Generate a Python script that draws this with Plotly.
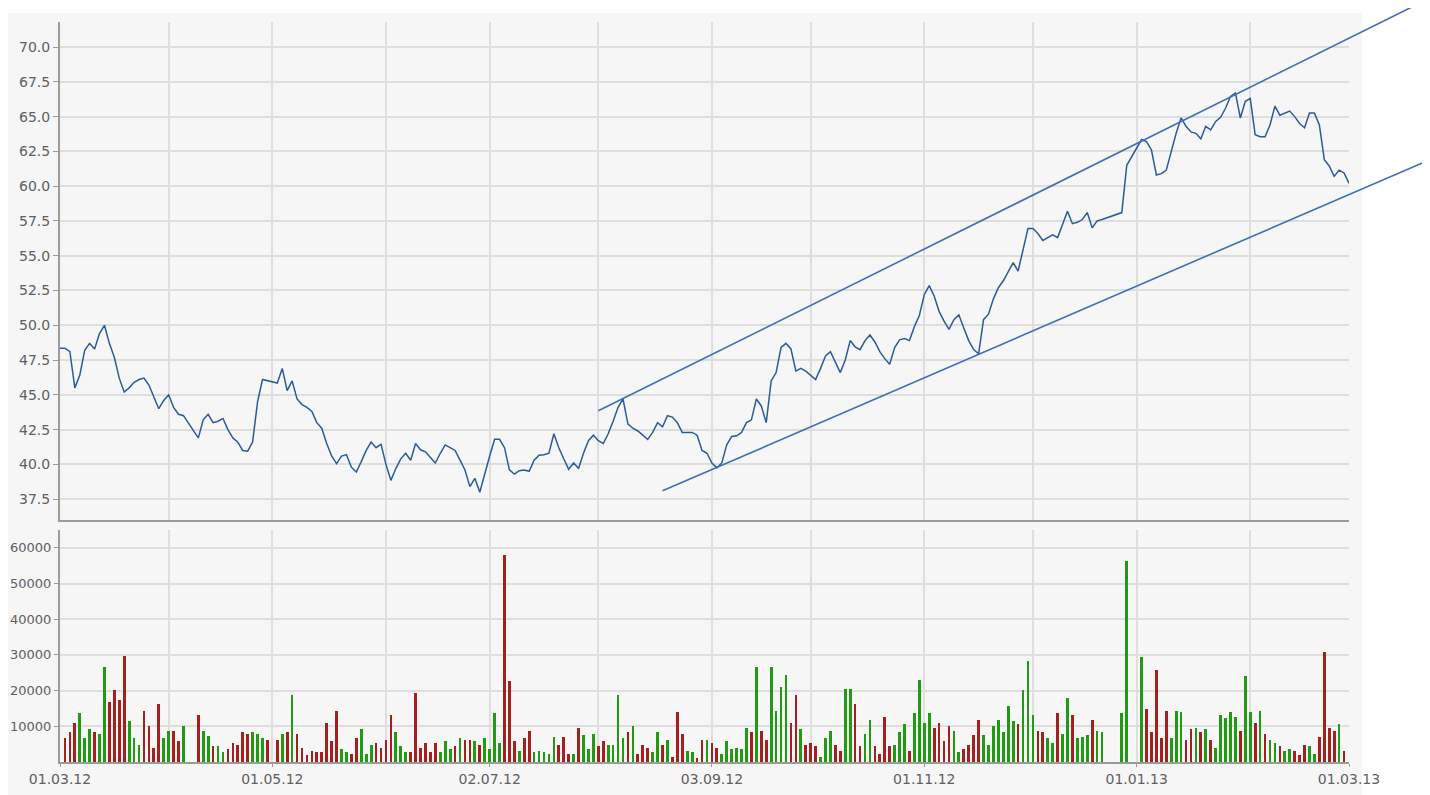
import numpy as np
import pandas as pd
import plotly.graph_objects as go

# ---------------- data ----------------
START = "2012-03-01"
END = "2013-03-01"
holidays = ["2012-04-06", "2012-04-09", "2012-05-01", "2012-12-24", "2012-12-25",
            "2012-12-26", "2012-12-31", "2013-01-01"]

# closing prices, one per trading day
price = [
    48.35, 48.35, 48.1, 45.5, 46.4, 48.2, 48.7, 48.3, 49.4, 50.0,
    48.7, 47.7, 46.2, 45.2, 45.5, 45.9, 46.1, 46.2, 45.7, 44.8,
    44.0, 44.6, 45.0, 44.1, 43.6, 43.5,
    41.9, 43.2, 43.6, 43.0, 43.1, 43.3, 42.5, 41.9, 41.6, 41.0,
    40.95, 41.6, 44.5, 46.1, 46.0,
    45.85, 46.9, 45.3, 46.0, 44.7, 44.3, 44.1, 43.8, 43.0, 42.6,
    41.5, 40.6, 40.05, 40.6, 40.7, 39.8, 39.45, 40.2, 41.0, 41.6,
    41.2, 41.45, 40.0, 38.85, 39.7, 40.4, 40.8, 40.3, 41.5, 41.05,
    40.9, 40.5, 40.1, 40.8, 41.4, 41.2, 41.0, 40.3, 39.6, 38.4,
    39.0, 38.0, 39.4, 40.6, 41.8, 41.8, 41.2, 39.6, 39.3, 39.55,
    39.6, 39.5, 40.3, 40.65, 40.7, 40.8, 42.2, 41.2, 40.4, 39.65,
    40.1, 39.7, 40.8, 41.7, 42.1, 41.7, 41.5, 42.2, 43.1, 44.1,
    44.7, 42.9, 42.6, 42.4, 42.1, 41.8, 42.3, 43.0, 42.7, 43.5,
    43.4, 43.0, 42.3, 42.3, 42.3, 42.1, 41.0, 40.8, 40.1, 39.75,
    40.1, 41.4, 42.0, 42.05, 42.3, 43.0, 43.2, 44.7, 44.2, 43.0,
    46.0, 46.6, 48.4, 48.7, 48.3, 46.7, 46.9, 46.7, 46.4, 46.1,
    46.9, 47.8, 48.1, 47.3, 46.6, 47.5, 48.9, 48.45, 48.25, 48.9,
    49.3, 48.8, 48.1, 47.6, 47.2, 48.4, 48.95, 49.05, 48.9, 49.9,
    50.7, 52.2, 52.85, 52.1, 51.0, 50.3, 49.7, 50.4, 50.75, 49.8,
    48.9, 48.25, 47.95, 50.4, 50.8, 51.9, 52.7, 53.2, 53.9, 54.5,
    53.9, 55.45, 56.95, 56.95, 56.6, 56.1, 56.3, 56.5, 56.3, 57.3,
    58.2, 57.3, 57.4, 57.6, 58.1, 57.0, 57.5, 57.6,
    58.1, 61.5,
    63.35, 63.2, 62.6, 60.8, 60.9, 61.15, 62.5, 63.8, 64.9, 64.3,
    63.9, 63.8, 63.4, 64.3, 64.05, 64.65, 64.95, 65.6, 66.45, 66.7,
    64.9, 66.1, 66.3, 63.7, 63.55, 63.55, 64.4, 65.75, 65.1, 65.25,
    65.4, 65.0, 64.5, 64.2, 65.25, 65.25, 64.4, 61.9, 61.45, 60.7,
    61.15, 60.95, 60.2,
]

# daily volume (None = no visible bar)
volume = [
    None, 6700, 8400, 11000, 13600, 6700, 9200, 8400, 7900, 26700,
    16700, 20100, 17500, 29700, 11500, 6700, 4900, 14400, 10000, 4000,
    16200, 6700, 8800, 8800, 5800, 10000,
    13100, 8800, 7400, 4400, 4400, 2800, 3600, 5400, 4900, 8400,
    7900, 8400, 7900, 6700, 6200,
    6200, 7900, 8400, 18900, 7900, 4000, 1900, 3200, 2800, 2800,
    11000, 5800, 14400, 3600, 2800, 2300, 6700, 9200, 2300, 4900,
    5400, 4000, 6200, 13100, 8400, 4400, 2800, 2800, 19300, 4000,
    5400, 2800, 5400, 2800, 5800, 3600, 4400, 6700, 6200, 6200,
    5800, 4900, 6700, 3600, 13600, 5400, 58000, 22700, 5800, 3200,
    6700, 8800, 2800, 3200, 2800, 2300, 7000, 4900, 7000, 2300,
    2300, 9600, 7500, 3600, 7900, 4400, 5800, 4900, 4900, 18800,
    6700, 8400, 10000, 2300, 4900, 4000, 2800, 8400, 4900, 6200,
    1400, 14000, 7900, 3200, 2800, 1000, 6200, 6200, 5400, 4000,
    2300, 5800, 3600, 4000, 3600, 9600, 8400, 26700, 8800, 6200,
    26700, 14400, 21000, 24400, 11000, 18800, 9300, 4900, 5400, 4400,
    1400, 6700, 8800, 4900, 3200, 20500, 20500, 16200, 4400, 7900,
    11900, 4400, 2300, 12700, 4400, 4900, 8400, 10600, 3200, 13600,
    23100, 11000, 13600, 9600, 11000, 5800, 10000, 8800, 2800, 3600,
    4900, 7500, 11900, 7500, 4900, 10000, 11900, 8400, 15700, 11500,
    10600, 20100, 28400, 13100, 8800, 8400, 6700, 5400, 13600, 7900,
    18000, 13100, 6700, 7000, 7500, 11900, 8800, 8400,
    13600, 56300,
    29400, 14900, 8400, 25800, 6700, 14400, 6700, 14400, 14000, 6200,
    9300, 9600, 8400, 9300, 6200, 4000, 13100, 12300, 14000, 12700,
    8800, 24000, 14000, 11000, 14400, 7900, 6200, 5400, 4400, 3200,
    3600, 3200, 1900, 4900, 4400, 2300, 7000, 30800, 9600, 8800,
    10600, 3200, None,
]

# bar direction per day: g = up (green), r = down (red)
vol_dir = "".join([
    "rrrrgggrgg", "rrrrgggrrr", "rggrrg",
    "rggrggrrrr", "rgggr",
    "rgrgrrrrrr", "rrrggrrggg", "rrrrgggrrr", "rrrgggrgrr",
    "grggggrrrg", "rrgggggrrr", "grgggrrggg", "grgrrrggrg",
    "rrrggrrgrr", "ggggggrgrr", "ggggrrgrrr", "gggrrggrrg",
    "grrrrgggrg", "gggrrrrggr", "rrrggggggg", "rgggrrggrg",
    "grgggrgg",
    "gg",
    "grrrrrgggr", "rgrgrggggg", "rggrgrggrg", "grrrggrrrr",
    "grr",
])

label_dates = ["2012-03-01", "2012-05-01", "2012-07-02", "2012-09-03",
               "2012-11-01", "2013-01-01", "2013-03-01"]
label_text = ["01.03.12", "01.05.12", "02.07.12", "03.09.12",
              "01.11.12", "01.01.13", "01.03.13"]
month_grid_dates = ["2012-04-02", "2012-05-01", "2012-06-01", "2012-07-02",
                    "2012-08-01", "2012-09-03", "2012-10-01", "2012-11-01",
                    "2012-12-03", "2013-01-01", "2013-02-01"]

price_ticks = [37.5, 40.0, 42.5, 45.0, 47.5, 50.0, 52.5, 55.0, 57.5, 60.0,
               62.5, 65.0, 67.5, 70.0]
volume_ticks = [10000, 20000, 30000, 40000, 50000, 60000]

# channel (trend) lines: (date, price) end points
trend_upper = [("2012-08-01", 43.85), ("2013-03-21", 73.1)]
trend_lower = [("2012-08-20", 38.1), ("2013-03-25", 61.85)]

# ---------------- build ----------------
trade_dates = pd.bdate_range(START, END)
trade_dates = trade_dates[~trade_dates.isin(pd.to_datetime(holidays))]


def wd(dates):
    d = pd.to_datetime(list(dates)).values.astype("datetime64[D]")
    return np.busday_count(np.datetime64(START), d)


x = wd(trade_dates)
x_end = int(wd([END])[0])

n = len(x)
price = price[:n]
volume = volume[:n]
vol_dir = vol_dir[:n].ljust(n, "r")

GREEN = "#1f9a12"
RED = "#a3201f"
bar_colors = [GREEN if c == "g" else RED for c in vol_dir]

P_MIN, P_MAX = 36.0, 71.8
V_MAX = 65000
PRICE_DOM = [0.327, 1.0]
VOL_DOM = [0.0, 0.3135]

GRID = "#dedede"
AXIS = "#9b9b9b"
FONT = dict(family="DejaVu Sans", size=14, color="#606060")
FONT_VOL = dict(family="DejaVu Sans", size=13, color="#606060")

fig = go.Figure()
fig.add_trace(go.Scatter(x=x, y=price, mode="lines",
                         line=dict(color="#2b5c97", width=1.5),
                         xaxis="x", yaxis="y", hoverinfo="skip"))
fig.add_trace(go.Bar(x=x, y=volume, width=0.55,
                     marker=dict(color=bar_colors, line=dict(width=0)),
                     xaxis="x2", yaxis="y2", hoverinfo="skip"))


def to_paper(d, p):
    xp = wd([d])[0] / x_end
    yp = PRICE_DOM[0] + (p - P_MIN) / (P_MAX - P_MIN) * (PRICE_DOM[1] - PRICE_DOM[0])
    return float(xp), float(yp)


shapes = [
    dict(type="rect", xref="paper", yref="paper",
         x0=-58 / 1289, x1=1302 / 1289, y0=-33 / 740, y1=749 / 740,
         fillcolor="#f6f6f6", line=dict(width=0), layer="below"),
]
for tl in (trend_upper, trend_lower):
    (d0, p0), (d1, p1) = tl
    x0, y0 = to_paper(d0, p0)
    x1, y1 = to_paper(d1, p1)
    shapes.append(dict(type="line", xref="paper", yref="paper",
                       x0=x0, y0=y0, x1=x1, y1=y1,
                       line=dict(color="#3f6fb5", width=1.6), layer="above"))

grid_vals = [int(v) for v in wd(month_grid_dates)]
label_vals = [int(v) for v in wd(label_dates)]

common_x = dict(range=[0, x_end], showgrid=False, zeroline=False,
                showline=True, linecolor=AXIS, linewidth=2,
                minor=dict(tickmode="array", tickvals=grid_vals, showgrid=True,
                           gridcolor=GRID, gridwidth=1.5, ticks=""),
                fixedrange=True)

fig.update_layout(
    width=1430, height=795,
    margin=dict(l=52, r=89, t=14, b=41, pad=0, autoexpand=False),
    paper_bgcolor="white",
    plot_bgcolor="rgba(0,0,0,0)",
    showlegend=False,
    hovermode=False,
    bargap=0,
    font=FONT,
    shapes=shapes,
    xaxis=dict(domain=[0, 1], anchor="y", showticklabels=False, ticks="",
               **common_x),
    xaxis2=dict(domain=[0, 1], anchor="y2", tickmode="array",
                tickvals=label_vals, ticktext=label_text,
                ticks="outside", ticklen=3, tickwidth=1, tickcolor=AXIS,
                tickfont=FONT, **common_x),
    yaxis=dict(domain=PRICE_DOM, anchor="x", range=[P_MIN, P_MAX],
               tickmode="array", tickvals=price_ticks, tickformat=".1f",
               ticks="outside", ticklen=5, tickcolor=AXIS,
               showgrid=True, gridcolor=GRID, gridwidth=1.5, zeroline=False,
               showline=True, linecolor=AXIS, linewidth=2,
               tickfont=FONT, fixedrange=True),
    yaxis2=dict(domain=VOL_DOM, anchor="x2", range=[0, V_MAX],
                tickmode="array", tickvals=volume_ticks, tickformat="d",
                ticks="outside", ticklen=4, tickcolor=AXIS,
                showgrid=True, gridcolor=GRID, gridwidth=1.5, zeroline=False,
                showline=True, linecolor=AXIS, linewidth=2,
                tickfont=FONT_VOL, fixedrange=True),
)

fig.write_html("out.html")
